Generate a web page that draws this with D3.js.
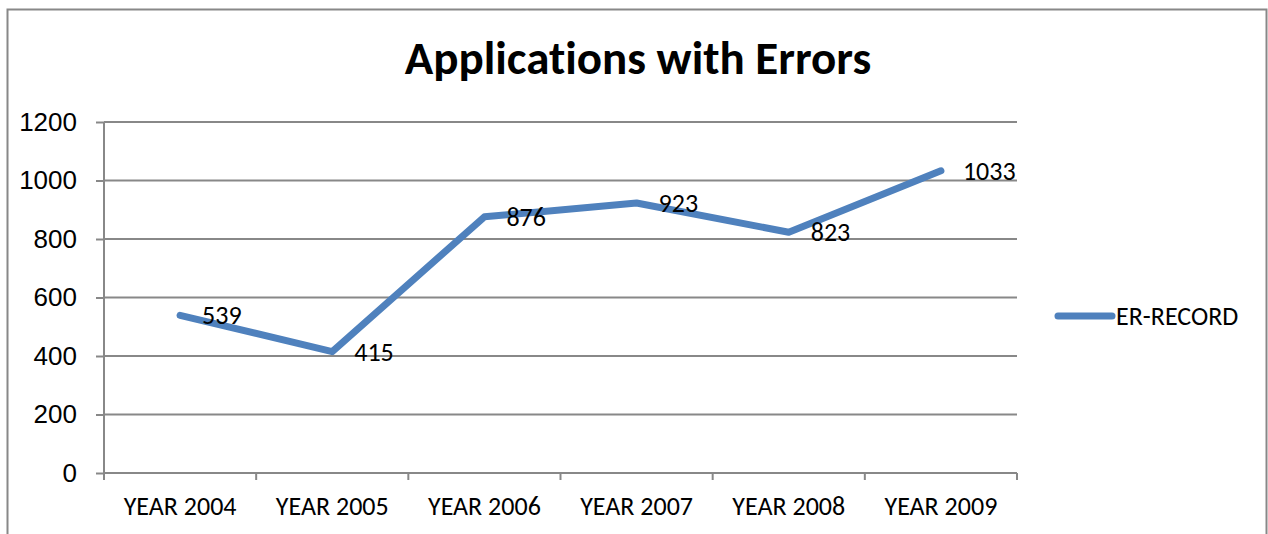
<!DOCTYPE html>
<html lang="en">
<head>
  <meta charset="UTF-8">
  <title>Applications with Errors</title>
  <style>
  body {
    margin: 0;
    background: #fff;
  }

  #chart {
    display: block;
    font-family: Carlito, Calibri, "Open Sans", sans-serif;
    font-variant-ligatures: none;
  }

  .grid line {
    stroke: #888;
    stroke-width: 2px;
  }

  .axis path,
  .axis line {
    stroke: #888;
    stroke-width: 2px;
  }

  .axis text {
    font-size: 26px;
    fill: #000;
  }

  .label {
    font-size: 26px;
    fill: #000;
  }
  </style>
</head>
<body>
  <svg id="chart"></svg>
<script src="https://cdnjs.cloudflare.com/ajax/libs/d3/7.8.5/d3.min.js"></script>
<script>
// chart data
const categories = ["YEAR 2004", "YEAR 2005", "YEAR 2006", "YEAR 2007", "YEAR 2008", "YEAR 2009"];
const errorValues = [539, 415, 876, 923, 823, 1033];
const yTicks = [0, 200, 400, 600, 800, 1000, 1200];
const seriesName = "ER-RECORD";
const chartTitle = "Applications with Errors";

const W = 1268, H = 534;
const margin = { top: 122, right: 251, bottom: 61, left: 104 };
const width = W - margin.left - margin.right;
const height = H - margin.top - margin.bottom;
const lineColor = "#4f81bd";

const svg = d3.select("#chart")
  .attr("width", W)
  .attr("height", H);

// outer chart border (bottom edge runs off the picture)
svg.append("rect")
  .attr("x", 7.5)
  .attr("y", 9.5)
  .attr("width", 1259)
  .attr("height", 540)
  .attr("fill", "none")
  .attr("stroke", "#888")
  .attr("stroke-width", 2);

svg.append("text")
  .attr("x", 638)
  .attr("y", 74)
  .attr("text-anchor", "middle")
  .style("font-size", "47px")
  .style("font-weight", "bold")
  .text(chartTitle);

const g = svg.append("g")
  .attr("transform", `translate(${margin.left},${margin.top})`);

const x = d3.scaleBand()
  .domain(categories)
  .range([0, width])
  .padding(0);

const y = d3.scaleLinear()
  .domain([0, 1200])
  .range([height, 0]);

// horizontal gridlines
g.append("g")
  .attr("class", "grid")
  .selectAll("line")
  .data(yTicks.filter(d => d > 0))
  .enter().append("line")
  .attr("x1", 0)
  .attr("x2", width)
  .attr("y1", d => y(d))
  .attr("y2", d => y(d));

// y axis
const yAxis = g.append("g")
  .attr("class", "axis")
  .call(d3.axisLeft(y).tickValues(yTicks).tickFormat(d3.format("d"))
    .tickSize(8).tickSizeOuter(0).tickPadding(19));
yAxis.select(".domain").attr("d", `M0,${y(1200)}V${height + 7}`);

// x axis with ticks on category boundaries
const xAxis = g.append("g")
  .attr("class", "axis")
  .attr("transform", `translate(0,${height})`);

xAxis.append("line")
  .attr("x1", 0)
  .attr("x2", width);

xAxis.selectAll(".tick-mark")
  .data(categories.map(c => x(c)).concat([width]))
  .enter().append("line")
  .attr("x1", d => d)
  .attr("x2", d => d)
  .attr("y1", 0)
  .attr("y2", 7);

xAxis.selectAll("text")
  .data(categories)
  .enter().append("text")
  .attr("x", d => x(d) + x.bandwidth() / 2)
  .attr("y", 42)
  .attr("text-anchor", "middle")
  .text(d => d);

// the series line
const points = categories.map((c, i) => ({ cat: c, value: errorValues[i] }));

const line = d3.line()
  .x(d => x(d.cat) + x.bandwidth() / 2)
  .y(d => y(d.value));

g.append("path")
  .datum(points)
  .attr("d", line)
  .attr("fill", "none")
  .attr("stroke", lineColor)
  .attr("stroke-width", 7)
  .attr("stroke-linecap", "round")
  .attr("stroke-linejoin", "round");

// data labels to the right of each point
g.selectAll(".label")
  .data(points)
  .enter().append("text")
  .attr("class", "label")
  .attr("x", d => x(d.cat) + x.bandwidth() / 2 + 22)
  .attr("y", d => y(d.value) + 9)
  .text(d => d.value);

// legend
const legend = svg.append("g")
  .attr("transform", "translate(1056,316)");

legend.append("line")
  .attr("x1", 2)
  .attr("x2", 56)
  .attr("stroke", lineColor)
  .attr("stroke-width", 7)
  .attr("stroke-linecap", "round");

legend.append("text")
  .attr("class", "label")
  .attr("x", 60)
  .attr("y", 9)
  .text(seriesName);
</script>
</body>
</html>
